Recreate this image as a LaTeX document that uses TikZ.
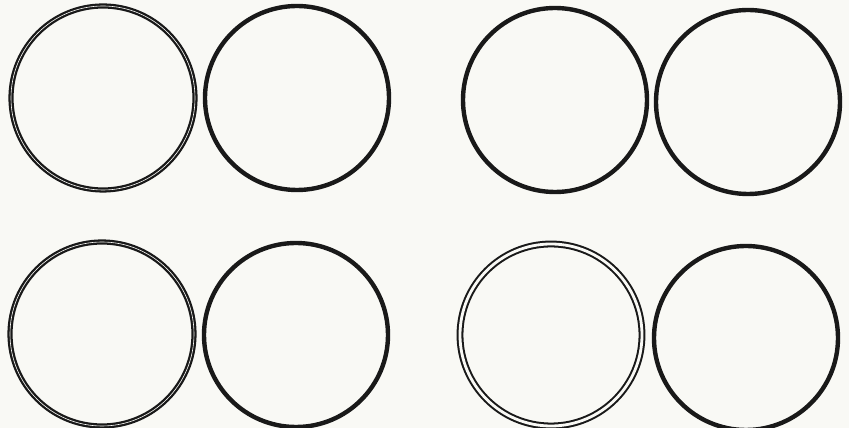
\documentclass[tikz,border=0pt]{standalone}
\usepackage{tikz}
\definecolor{paper}{RGB}{249,249,245}
\tikzset{
  ring/.style={draw=black!90,line width=2.5pt},
  thinpair/.style={draw=black!90,double=paper,line width=1.3pt,double distance=0.35pt},
  widepair/.style={draw=black!90,double=paper,line width=1.15pt,double distance=1.6pt}
}

\begin{document}
\begin{tikzpicture}[x=0.02cm,y=-0.02cm]
% page in pixel units, origin top left
\fill[paper] (0,0) rectangle (849,428);
\useasboundingbox (0,0) rectangle (849,428);
% upper row
\draw[thinpair] (103,98) circle (92); % left pair
\draw[ring] (297,98) circle (92);
\draw[ring] (555,100) circle (92); % right pair
\draw[ring] (748,102) circle (92);
% lower row
\draw[thinpair] (102,334) circle (92); % left pair
\draw[ring] (296,335) circle (92);
\draw[widepair] (551,335) circle (91); % right pair
\draw[ring] (746,338) circle (92);
\end{tikzpicture}
\end{document}
